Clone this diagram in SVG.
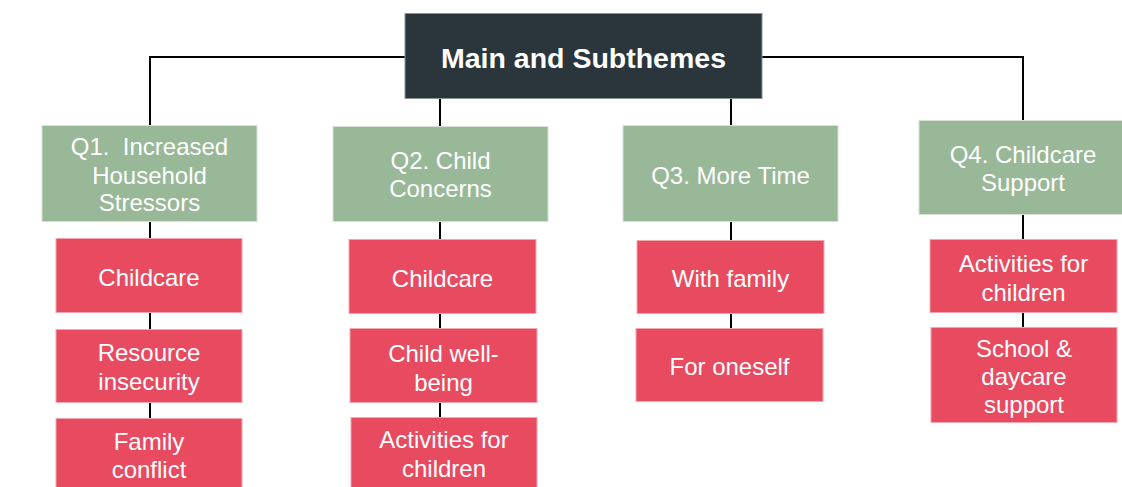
<svg xmlns="http://www.w3.org/2000/svg" width="1122" height="487" viewBox="0 0 1122 487">
<style>
.main{fill:#2a363b;stroke:#8a9396;stroke-width:1}
.q{fill:#99b898;stroke:#d6e2d5;stroke-width:1}
.s{fill:#e84a5f;stroke:#f4a6b0;stroke-width:1}
.t{font-family:"Liberation Sans",Arial,sans-serif;font-size:24px;fill:#ffffff;text-anchor:middle}
.tm{font-family:"Liberation Sans",Arial,sans-serif;font-size:28.5px;font-weight:bold;fill:#ffffff;text-anchor:middle}
.c{fill:none;stroke:#000000;stroke-width:2}
</style>
<rect width="1122" height="487" fill="#ffffff"/>
<g id="connectors">
<polyline class="c" points="150,125 150,57 1023,57 1023,120"/>
<line class="c" x1="440" y1="98" x2="440" y2="126"/>
<line class="c" x1="731" y1="98" x2="731" y2="125"/>
<line class="c" x1="150" y1="222" x2="150" y2="418"/>
<line class="c" x1="440" y1="222" x2="440" y2="417"/>
<line class="c" x1="731" y1="222" x2="731" y2="328"/>
<line class="c" x1="1023" y1="215" x2="1023" y2="327"/>
</g>
<g id="main">
<rect class="main" x="405" y="13.5" width="357" height="85"/>
<text class="tm" x="583.5" y="68">Main and Subthemes</text>
</g>
<g id="q1">
<rect class="q" x="42" y="125.5" width="215" height="96"/>
<text class="t" x="149.5" y="155" xml:space="preserve">Q1.  Increased</text>
<text class="t" x="149.5" y="184">Household</text>
<text class="t" x="149.5" y="211">Stressors</text>
</g>
<g id="q2">
<rect class="q" x="333" y="126.5" width="215" height="95"/>
<text class="t" x="440.5" y="169">Q2. Child</text>
<text class="t" x="440.5" y="197">Concerns</text>
</g>
<g id="q3">
<rect class="q" x="623" y="125.5" width="215" height="96"/>
<text class="t" x="730.5" y="184">Q3. More Time</text>
</g>
<g id="q4">
<rect class="q" x="919" y="120.5" width="208" height="94"/>
<text class="t" x="1023" y="163">Q4. Childcare</text>
<text class="t" x="1023" y="191">Support</text>
</g>
<g id="q1-childcare">
<rect class="s" x="56" y="238.5" width="186" height="74"/>
<text class="t" x="149" y="286">Childcare</text>
</g>
<g id="q1-resource">
<rect class="s" x="56" y="329.5" width="186" height="73"/>
<text class="t" x="149" y="361">Resource</text>
<text class="t" x="149" y="390">insecurity</text>
</g>
<g id="q1-family">
<rect class="s" x="56" y="418.5" width="186" height="70"/>
<text class="t" x="149" y="450">Family</text>
<text class="t" x="149" y="478">conflict</text>
</g>
<g id="q2-childcare">
<rect class="s" x="349" y="239.5" width="187" height="74"/>
<text class="t" x="442.5" y="287">Childcare</text>
</g>
<g id="q2-wellbeing">
<rect class="s" x="350" y="328.5" width="187" height="74"/>
<text class="t" x="443.5" y="362">Child well-</text>
<text class="t" x="443.5" y="391">being</text>
</g>
<g id="q2-activities">
<rect class="s" x="351" y="417.5" width="186" height="71"/>
<text class="t" x="444" y="448">Activities for</text>
<text class="t" x="444" y="477">children</text>
</g>
<g id="q3-family">
<rect class="s" x="637" y="240.5" width="187" height="73"/>
<text class="t" x="730.5" y="287">With family</text>
</g>
<g id="q3-oneself">
<rect class="s" x="636" y="328.5" width="187" height="73"/>
<text class="t" x="729.5" y="375">For oneself</text>
</g>
<g id="q4-activities">
<rect class="s" x="930" y="239.5" width="187" height="73"/>
<text class="t" x="1023.5" y="272">Activities for</text>
<text class="t" x="1023.5" y="301">children</text>
</g>
<g id="q4-school">
<rect class="s" x="931" y="327.5" width="186" height="95"/>
<text class="t" x="1024" y="357">School &amp;</text>
<text class="t" x="1024" y="385">daycare</text>
<text class="t" x="1024" y="413">support</text>
</g>
</svg>
